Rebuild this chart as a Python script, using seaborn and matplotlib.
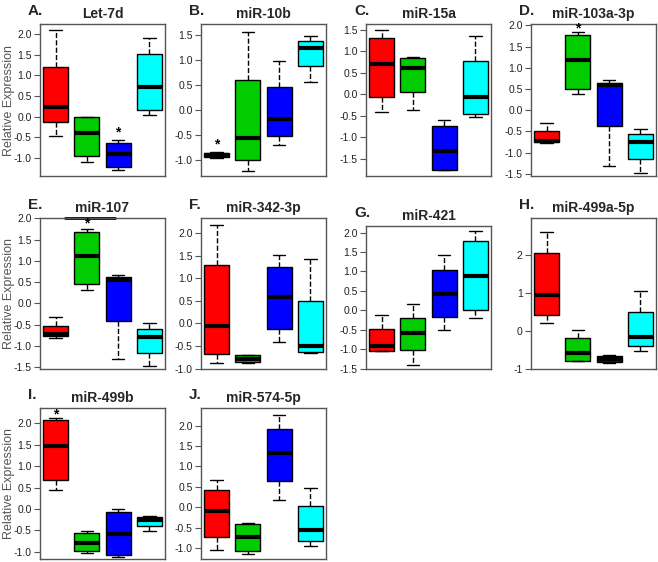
import numpy as np
import pandas as pd
import matplotlib
matplotlib.use("Agg")
import matplotlib.pyplot as plt
import seaborn as sns

# five-number summaries per group: [lower whisker, Q1, median, Q3, upper whisker]
# group order: red, green, blue, cyan
groups = ["G1", "G2", "G3", "G4"]
colors = ["#FF0000", "#00CC00", "#0000FF", "#00FFFF"]

let_7d = [[-0.46, -0.14, 0.22, 1.19, 2.10],
          [-1.11, -0.95, -0.40, -0.02, -0.02],
          [-1.30, -1.21, -0.91, -0.64, -0.57],
          [0.04, 0.16, 0.71, 1.52, 1.89]]
mir_10b = [[-0.97, -0.95, -0.90, -0.86, -0.84],
           [-1.22, -1.00, -0.56, 0.60, 1.56],
           [-0.70, -0.52, -0.19, 0.45, 0.97],
           [0.56, 0.87, 1.23, 1.38, 1.47]]
mir_15a = [[-0.42, -0.07, 0.70, 1.31, 1.50],
           [-0.36, 0.05, 0.62, 0.84, 0.88],
           [-1.77, -1.77, -1.32, -0.74, -0.60],
           [-0.53, -0.45, -0.07, 0.78, 1.36]]
mir_103a = [[-0.77, -0.76, -0.72, -0.50, -0.29],
            [0.37, 0.51, 1.18, 1.77, 1.85],
            [-1.31, -0.37, 0.60, 0.65, 0.70],
            [-1.47, -1.15, -0.76, -0.56, -0.45]]
mir_107 = [[-0.80, -0.76, -0.72, -0.53, -0.31],
           [0.32, 0.45, 1.11, 1.69, 1.76],
           [-1.31, -0.41, 0.55, 0.63, 0.67],
           [-1.48, -1.16, -0.78, -0.59, -0.46]]
mir_342 = [[-0.87, -0.68, -0.05, 1.30, 2.18],
           [-0.87, -0.86, -0.78, -0.70, -0.69],
           [-0.40, -0.13, 0.59, 1.26, 1.52],
           [-0.66, -0.63, -0.50, 0.49, 1.43]]
mir_421 = [[-1.04, -1.04, -0.91, -0.48, -0.11],
           [-1.41, -1.02, -0.58, -0.20, 0.17],
           [-0.50, -0.17, 0.42, 1.05, 1.43],
           [-0.19, 0.02, 0.88, 1.79, 2.03]]
mir_499a = [[0.21, 0.41, 0.95, 2.03, 2.58],
            [-0.80, -0.78, -0.59, -0.18, 0.03],
            [-0.83, -0.82, -0.73, -0.66, -0.62],
            [-0.54, -0.39, -0.17, 0.49, 1.04]]
mir_499b = [[0.45, 0.68, 1.48, 2.09, 2.12],
            [-1.02, -0.98, -0.79, -0.57, -0.51],
            [-1.13, -1.08, -0.59, -0.08, -0.01],
            [-0.52, -0.41, -0.26, -0.18, -0.16]]
mir_574 = [[-1.05, -0.72, -0.09, 0.43, 0.67],
           [-1.15, -1.07, -0.72, -0.42, -0.38],
           [0.18, 0.65, 1.32, 1.92, 2.26],
           [-0.94, -0.82, -0.56, 0.03, 0.47]]

panel_letters = ["A.", "B.", "C.", "D.", "E.", "F.", "G.", "H.", "I.", "J."]
panel_titles = ["Let-7d", "miR-10b", "miR-15a", "miR-103a-3p", "miR-107",
                "miR-342-3p", "miR-421", "miR-499a-5p", "miR-499b", "miR-574-5p"]
panel_data = [let_7d, mir_10b, mir_15a, mir_103a, mir_107,
              mir_342, mir_421, mir_499a, mir_499b, mir_574]
panel_ylims = [(-1.44, 2.24), (-1.32, 1.71), (-1.90, 1.64), (-1.55, 2.03),
               (-1.54, 2.01), (-1.01, 2.34), (-1.51, 2.17), (-0.98, 2.96),
               (-1.17, 2.36), (-1.27, 2.43)]
# significance stars: (panel, group, y)
stars = [(0, 2, -0.38), (1, 0, -0.70), (3, 1, 1.93), (4, 1, 1.88), (8, 0, 2.20)]

W, H = 658, 562
FONT = ["Liberation Sans Narrow", "Liberation Sans", "DejaVu Sans"]


def px(left, top, right, bottom):
    return [left / W, 1 - bottom / H, (right - left) / W, (bottom - top) / H]


def main():
    sns.set_style("white")
    plt.rcParams["font.family"] = FONT

    rows = []
    for p, pdata in enumerate(panel_data):
        for g, vals in enumerate(pdata):
            for v in vals:
                rows.append({"panel": p, "group": groups[g], "value": v})
    df = pd.DataFrame(rows)

    fig = plt.figure(figsize=(W / 100, H / 100), dpi=100)

    col_left = [40, 201, 366, 531]
    row_box = [(24, 176), (218, 369), (408, 559)]
    box_w = 125

    for p in range(len(panel_data)):
        r, c = divmod(p, 4)
        top, bottom = row_box[r]
        if p == 6:
            top = 226
        left = col_left[c]
        ax = fig.add_axes(px(left, top, left + box_w, bottom))
        sub = df[df["panel"] == p]
        sns.boxplot(data=sub, x="group", y="value", hue="group", order=groups,
                    hue_order=groups, palette=colors, saturation=1, legend=False,
                    whis=np.inf, width=0.8, linewidth=1, linecolor="black", ax=ax,
                    medianprops=dict(linewidth=3, color="black"),
                    whiskerprops=dict(linestyle="--", linewidth=1),
                    capprops=dict(linewidth=1))
        ax.set_xlim(-0.5, 3.5)
        ax.set_ylim(*panel_ylims[p])
        if p == 7:
            ax.set_yticks([-1, 0, 1, 2])
            ax.set_yticklabels(["-1", "0", "1", "2"])
        else:
            ax.yaxis.set_major_locator(matplotlib.ticker.MultipleLocator(0.5))
            ax.yaxis.set_major_formatter(matplotlib.ticker.FormatStrFormatter("%.1f"))
        ax.set_xticks([])
        ax.set_xlabel("")
        ax.set_ylabel("")
        ax.tick_params(axis="y", left=True, length=4, width=0.8, color="#555555",
                       labelsize=7.5, labelcolor="#222222", pad=2)
        for s in ax.spines.values():
            s.set_color("#555555")
            s.set_linewidth(1)

        if c == 0:
            ax.set_ylabel("Relative Expression", fontsize=9, color="#555555")
            ax.yaxis.set_label_coords(-0.2, 0.5)

        for sp, g, y in stars:
            if sp == p:
                ax.text(g, y, "*", ha="center", va="center", fontsize=10,
                        fontweight="bold", color="black")
        if p == 4:
            ylo, yhi = panel_ylims[p]
            ax.plot([0.3, 1.9], [yhi, yhi], color="black", lw=2, clip_on=False)

        # title and panel letter
        fig.text((left + box_w / 2) / W, 1 - (top - 10) / H, panel_titles[p],
                 ha="center", va="center", fontsize=10, fontweight="bold")
        fig.text((left - 12) / W, 1 - (top - 13) / H, panel_letters[p],
                 ha="left", va="center", fontsize=11, fontweight="bold")

    fig.savefig("out.png", dpi=100)


if __name__ == "__main__":
    main()
